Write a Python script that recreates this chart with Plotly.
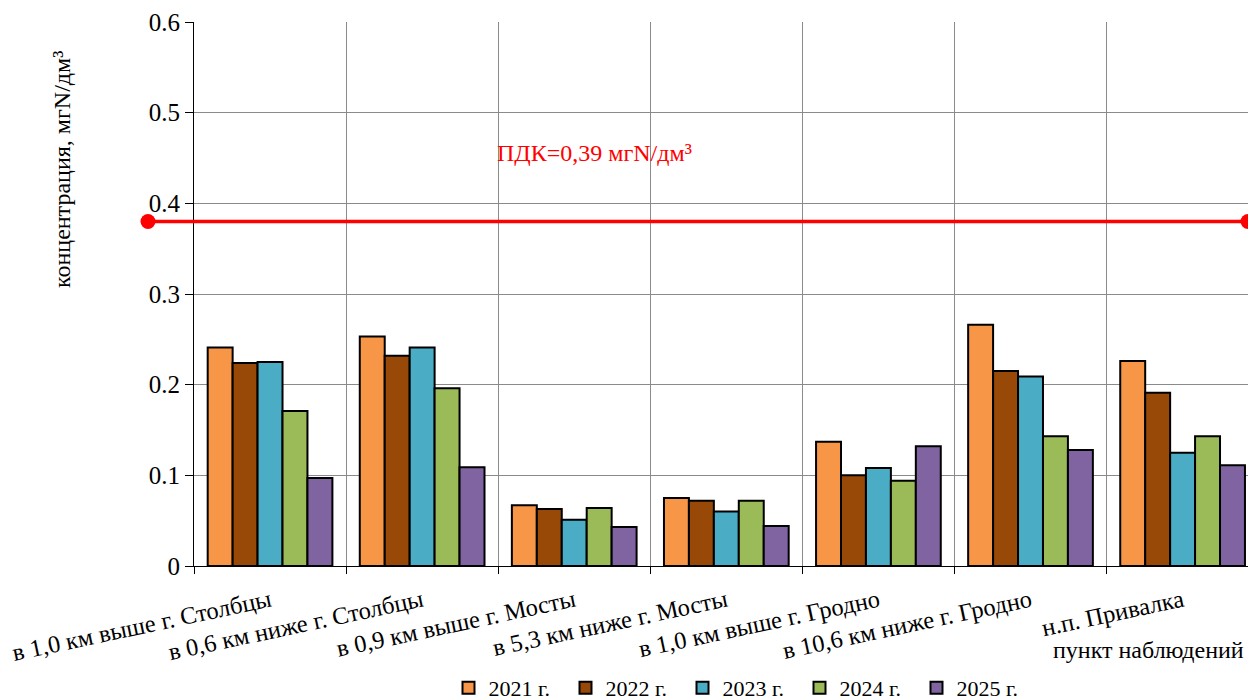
import plotly.graph_objects as go

categories = ["в 1,0 км выше г. Столбцы", "в 0,6 км ниже г. Столбцы", "в 0,9 км выше г. Мосты",
              "в 5,3 км ниже г. Мосты", "в 1,0 км выше г. Гродно", "в 10,6 км ниже г. Гродно",
              "н.п. Привалка"]
years = ["2021 г.", "2022 г.", "2023 г.", "2024 г.", "2025 г."]
v2021 = [0.241, 0.253, 0.067, 0.075, 0.137, 0.266, 0.226]
v2022 = [0.224, 0.232, 0.063, 0.072, 0.100, 0.215, 0.191]
v2023 = [0.225, 0.241, 0.051, 0.060, 0.108, 0.209, 0.125]
v2024 = [0.171, 0.196, 0.064, 0.072, 0.094, 0.143, 0.143]
v2025 = [0.097, 0.109, 0.043, 0.044, 0.132, 0.128, 0.111]
colors = ["#F79646", "#984807", "#4BACC6", "#9BBB59", "#8064A2"]
pdk_value = 0.38
pdk_label = "ПДК=0,39 мгN/дм³"
y_ticks = [0, 0.1, 0.2, 0.3, 0.4, 0.5, 0.6]
y_ticktext = ["0", "0.1", "0.2", "0.3", "0.4", "0.5", "0.6"]

font = "Liberation Serif, Times New Roman, serif"
xpos = list(range(len(categories)))

fig = go.Figure()
for name, vals, c in zip(years, [v2021, v2022, v2023, v2024, v2025], colors):
    fig.add_trace(go.Bar(x=xpos, y=vals, name=name, xaxis="x", yaxis="y",
                         marker=dict(color=c, line=dict(color="black", width=2))))

fig.add_trace(go.Scatter(x=[0, 1], y=[pdk_value, pdk_value], xaxis="x2", yaxis="y2", mode="lines+markers",
                         line=dict(color="#FF0000", width=3.5), marker=dict(size=15, color="#FF0000"),
                         cliponaxis=False, showlegend=False, hoverinfo="skip"))

# page body has an 8px offset; margins compensate so the screenshot lines up
W, H = 1256, 700
ml, mr, mt, mb = 140, 16, 14, 142
pw = W - ml - mr
ph = H - mt - mb
x0 = (194 - 148) / pw


def px(xs):
    return (xs - 148) / pw


def py(ys):
    return (566 - ys) / ph


fig.update_layout(
    width=W, height=H, margin=dict(l=ml, r=mr, t=mt, b=mb, autoexpand=False),
    paper_bgcolor="white", plot_bgcolor="rgba(0,0,0,0)",
    font=dict(family=font, color="black", size=24),
    barmode="group", bargap=0.18, bargroupgap=0,
    xaxis=dict(domain=[x0, 1], range=[-0.5, 6.43], tickvals=xpos, ticktext=categories, ticks="",
               tickangle=-12, tickfont=dict(size=24.5), showgrid=False, zeroline=False, automargin=False,
               showline=True, linecolor="black", linewidth=1, anchor="y", ticklabelstandoff=10,
               minor=dict(tickvals=[i + 0.5 for i in range(-1, 7)], ticks="outside", ticklen=7,
                          tickcolor="black", showgrid=True, gridcolor="#8a8a8a", gridwidth=1)),
    yaxis=dict(domain=[0, 1], range=[0, 0.6], tickvals=y_ticks, ticktext=y_ticktext, ticks="outside",
               ticklen=8, tickcolor="black", tickfont=dict(size=25), showgrid=True, gridcolor="#8a8a8a",
               gridwidth=1, zeroline=False, showline=True, linecolor="black", linewidth=1,
               anchor="x", automargin=False),
    xaxis2=dict(domain=[0, 1], range=[0, 1], anchor="y2", visible=False),
    yaxis2=dict(domain=[0, 1], range=[0, 0.6], anchor="x2", visible=False),
    legend=dict(orientation="h", x=px(741), xanchor="center", y=py(688),
                yanchor="middle", font=dict(size=22), entrywidth=72, entrywidthmode="pixels",
                itemwidth=30, traceorder="normal"),
    annotations=[
        dict(text=pdk_label, xref="paper", yref="paper", x=px(495), y=py(153),
             xanchor="left", yanchor="middle", showarrow=False, font=dict(size=24, color="#FF0000")),
        dict(text="концентрация, мгN/дм³", xref="paper", yref="paper", x=px(62),
             y=py(170), textangle=-90, showarrow=False, xanchor="center", yanchor="middle",
             font=dict(size=24)),
        dict(text="пункт наблюдений", xref="paper", yref="paper", x=px(1246),
             y=py(650), xanchor="right", yanchor="middle", showarrow=False,
             font=dict(size=24)),
    ],
)

fig.write_html("out.html")
